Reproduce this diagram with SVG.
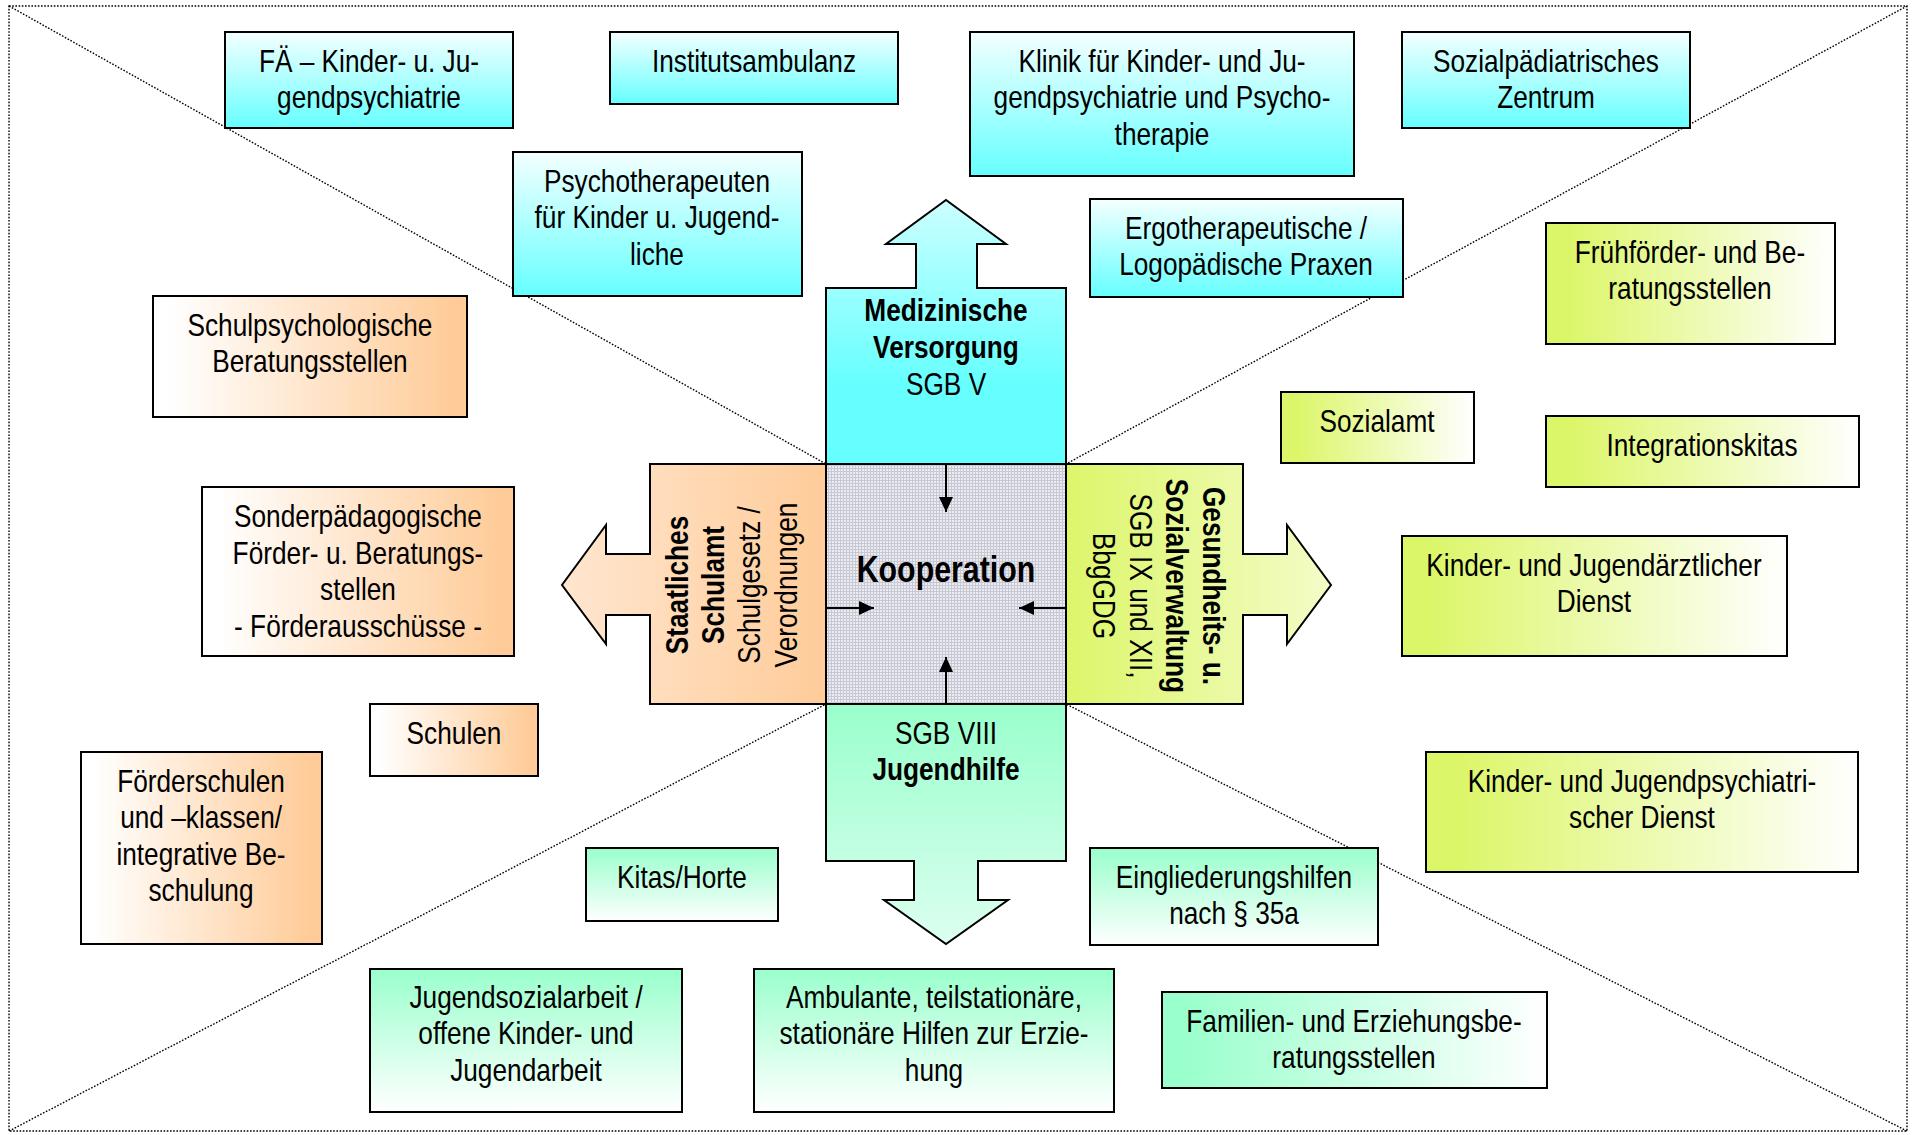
<svg xmlns="http://www.w3.org/2000/svg" width="1915" height="1135" viewBox="0 0 1915 1135">
<style>
.t{font-family:'Liberation Sans Narrow','Arial Narrow','Liberation Sans',sans-serif;font-size:32px;text-anchor:middle;fill:#000;transform-box:fill-box;transform-origin:center;transform:scaleX(0.82)}
.b{font-weight:bold}
.k{font-size:37px;font-weight:bold}
.box{stroke:#000;stroke-width:2}
.diag{stroke:#000;stroke-width:1.4;stroke-dasharray:1.6 1.6;fill:none}
.ca{stroke:#000;stroke-width:2;fill:none;marker-end:url(#ah)}
</style>
<defs>
<linearGradient id="gCyan" x1="0" y1="0" x2="0" y2="1"><stop offset="0" stop-color="#f4ffff"/><stop offset="1" stop-color="#66ffff"/></linearGradient>
<linearGradient id="gOr" x1="0" y1="0" x2="1" y2="0"><stop offset="0.05" stop-color="#ffffff"/><stop offset="0.95" stop-color="#ffcc99"/></linearGradient>
<linearGradient id="gLime" x1="0" y1="0" x2="1" y2="0"><stop offset="0.08" stop-color="#dcf66a"/><stop offset="1" stop-color="#ffffff"/></linearGradient>
<linearGradient id="gMintV" x1="0" y1="0" x2="0" y2="1"><stop offset="0" stop-color="#99ffcc"/><stop offset="1" stop-color="#ffffff"/></linearGradient>
<linearGradient id="gMintH" x1="0" y1="0" x2="1" y2="0"><stop offset="0.05" stop-color="#99ffcc"/><stop offset="1" stop-color="#ffffff"/></linearGradient>
<linearGradient id="gUp" gradientUnits="userSpaceOnUse" x1="0" y1="200" x2="0" y2="464"><stop offset="0" stop-color="#ccffff"/><stop offset="0.7" stop-color="#66ffff"/></linearGradient>
<linearGradient id="gLeft" gradientUnits="userSpaceOnUse" x1="562" y1="0" x2="826" y2="0"><stop offset="0" stop-color="#ffe6d0"/><stop offset="1" stop-color="#ffcc99"/></linearGradient>
<linearGradient id="gRight" gradientUnits="userSpaceOnUse" x1="1066" y1="0" x2="1331" y2="0"><stop offset="0" stop-color="#dcf66a"/><stop offset="1" stop-color="#f4fcc8"/></linearGradient>
<linearGradient id="gDown" gradientUnits="userSpaceOnUse" x1="0" y1="704" x2="0" y2="944"><stop offset="0" stop-color="#99ffcc"/><stop offset="1" stop-color="#dcfff0"/></linearGradient>
<pattern id="grid" width="3" height="3" patternUnits="userSpaceOnUse"><rect width="3" height="3" fill="#ebebf2"/><path d="M0 0.5H3M0.5 0V3" stroke="#c8c8d4" stroke-width="1"/></pattern>
<marker id="ah" viewBox="0 0 10 10" refX="10" refY="5" markerWidth="15" markerHeight="14" markerUnits="userSpaceOnUse" orient="auto" preserveAspectRatio="none"><path d="M0 0L10 5L0 10z" fill="#000"/></marker>
</defs>
<rect width="1915" height="1135" fill="#fff"/>
<g id="frame">
<rect x="9" y="6" width="1898" height="1125" class="diag"/>
<path class="diag" d="M9 6L826 464M1907 6L1066 464M9 1131L826 704M1907 1131L1066 704"/>
</g>

<g id="medizin">
<path class="box" fill="url(#gUp)" d="M826 464V288H916V244H886L946 200L1006 244H977V288H1066V464Z"/>
<text class="t b" x="946" y="321">Medizinische</text>
<text class="t b" x="946" y="358">Versorgung</text>
<text class="t" x="946" y="395">SGB V</text>
</g>
<g id="schulamt">
<path class="box" fill="url(#gLeft)" d="M826 464H650V554H606V525L562 585L606 644V615H650V704H826Z"/>
<g transform="translate(688 585) rotate(-90)"><text class="t b">Staatliches</text></g>
<g transform="translate(724 585) rotate(-90)"><text class="t b">Schulamt</text></g>
<g transform="translate(760 585) rotate(-90)"><text class="t">Schulgesetz /</text></g>
<g transform="translate(797 585) rotate(-90)"><text class="t">Verordnungen</text></g>
</g>
<g id="gesundheit">
<path class="box" fill="url(#gRight)" d="M1066 464H1243V554H1287V525L1331 585L1287 644V615H1243V704H1066Z"/>
<g transform="translate(1203 586) rotate(90)"><text class="t b">Gesundheits- u.</text></g>
<g transform="translate(1166 586) rotate(90)"><text class="t b">Sozialverwaltung</text></g>
<g transform="translate(1130 586) rotate(90)"><text class="t">SGB IX und XII,</text></g>
<g transform="translate(1093 586) rotate(90)"><text class="t">BbgGDG</text></g>
</g>
<g id="jugendhilfe">
<path class="box" fill="url(#gDown)" d="M826 704H1066V861H978V900H1008L946 944L884 900H914V861H826Z"/>
<text class="t" x="946" y="744">SGB VIII</text>
<text class="t b" x="946" y="780">Jugendhilfe</text>
</g>
<g id="kooperation">
<rect class="box" x="826" y="464" width="240" height="240" fill="url(#grid)"/>
<text class="t k" x="946" y="582">Kooperation</text>
</g>

<g id="connectors">
<path class="ca" d="M946 465V512"/>
<path class="ca" d="M946 703V657"/>
<path class="ca" d="M827 608H874"/>
<path class="ca" d="M1065 608H1019"/>
</g>

<g id="n-fae"><rect class="box" x="225" y="32" width="288" height="96" fill="url(#gCyan)"/><text class="t" x="369" y="72">FÄ – Kinder- u. Ju-</text><text class="t" x="369" y="108">gendpsychiatrie</text></g>
<g id="n-institut"><rect class="box" x="610" y="32" width="288" height="72" fill="url(#gCyan)"/><text class="t" x="754" y="72">Institutsambulanz</text></g>
<g id="n-klinik"><rect class="box" x="970" y="32" width="384" height="144" fill="url(#gCyan)"/><text class="t" x="1162" y="72">Klinik für Kinder- und Ju-</text><text class="t" x="1162" y="108">gendpsychiatrie und Psycho-</text><text class="t" x="1162" y="145">therapie</text></g>
<g id="n-spz"><rect class="box" x="1402" y="32" width="288" height="96" fill="url(#gCyan)"/><text class="t" x="1546" y="72">Sozialpädiatrisches</text><text class="t" x="1546" y="108">Zentrum</text></g>
<g id="n-psycho"><rect class="box" x="513" y="152" width="289" height="144" fill="url(#gCyan)"/><text class="t" x="657" y="192">Psychotherapeuten</text><text class="t" x="657" y="228">für Kinder u. Jugend-</text><text class="t" x="657" y="265">liche</text></g>
<g id="n-ergo"><rect class="box" x="1090" y="199" width="313" height="98" fill="url(#gCyan)"/><text class="t" x="1246" y="239">Ergotherapeutische /</text><text class="t" x="1246" y="275">Logopädische Praxen</text></g>
<g id="n-schulpsych"><rect class="box" x="153" y="296" width="314" height="121" fill="url(#gOr)"/><text class="t" x="310" y="336">Schulpsychologische</text><text class="t" x="310" y="372">Beratungsstellen</text></g>
<g id="n-fruehfoerder"><rect class="box" x="1546" y="223" width="289" height="121" fill="url(#gLime)"/><text class="t" x="1690" y="263">Frühförder- und Be-</text><text class="t" x="1690" y="299">ratungsstellen</text></g>
<g id="n-sozialamt"><rect class="box" x="1281" y="392" width="193" height="71" fill="url(#gLime)"/><text class="t" x="1377" y="432">Sozialamt</text></g>
<g id="n-integrationskitas"><rect class="box" x="1546" y="416" width="313" height="71" fill="url(#gLime)"/><text class="t" x="1702" y="456">Integrationskitas</text></g>
<g id="n-sonderpaed"><rect class="box" x="202" y="487" width="312" height="169" fill="url(#gOr)"/><text class="t" x="358" y="527">Sonderpädagogische</text><text class="t" x="358" y="564">Förder- u. Beratungs-</text><text class="t" x="358" y="600">stellen</text><text class="t" x="358" y="637">- Förderausschüsse -</text></g>
<g id="n-kjad"><rect class="box" x="1402" y="536" width="385" height="120" fill="url(#gLime)"/><text class="t" x="1594" y="576">Kinder- und Jugendärztlicher</text><text class="t" x="1594" y="612">Dienst</text></g>
<g id="n-schulen"><rect class="box" x="370" y="704" width="168" height="72" fill="url(#gOr)"/><text class="t" x="454" y="744">Schulen</text></g>
<g id="n-foerderschulen"><rect class="box" x="81" y="752" width="241" height="192" fill="url(#gOr)"/><text class="t" x="201" y="792">Förderschulen</text><text class="t" x="201" y="828">und –klassen/</text><text class="t" x="201" y="865">integrative Be-</text><text class="t" x="201" y="901">schulung</text></g>
<g id="n-kjpd"><rect class="box" x="1426" y="752" width="432" height="120" fill="url(#gLime)"/><text class="t" x="1642" y="792">Kinder- und Jugendpsychiatri-</text><text class="t" x="1642" y="828">scher Dienst</text></g>
<g id="n-kitas"><rect class="box" x="586" y="848" width="192" height="73" fill="url(#gMintV)"/><text class="t" x="682" y="888">Kitas/Horte</text></g>
<g id="n-eingliederung"><rect class="box" x="1090" y="848" width="288" height="97" fill="url(#gMintV)"/><text class="t" x="1234" y="888">Eingliederungshilfen</text><text class="t" x="1234" y="924">nach § 35a</text></g>
<g id="n-jugendsozial"><rect class="box" x="370" y="969" width="312" height="143" fill="url(#gMintV)"/><text class="t" x="526" y="1008">Jugendsozialarbeit /</text><text class="t" x="526" y="1044">offene Kinder- und</text><text class="t" x="526" y="1081">Jugendarbeit</text></g>
<g id="n-ambulant"><rect class="box" x="754" y="969" width="360" height="143" fill="url(#gMintV)"/><text class="t" x="934" y="1008">Ambulante, teilstationäre,</text><text class="t" x="934" y="1044">stationäre Hilfen zur Erzie-</text><text class="t" x="934" y="1081">hung</text></g>
<g id="n-familien"><rect class="box" x="1162" y="992" width="385" height="96" fill="url(#gMintH)"/><text class="t" x="1354" y="1032">Familien- und Erziehungsbe-</text><text class="t" x="1354" y="1068">ratungsstellen</text></g>
</svg>
